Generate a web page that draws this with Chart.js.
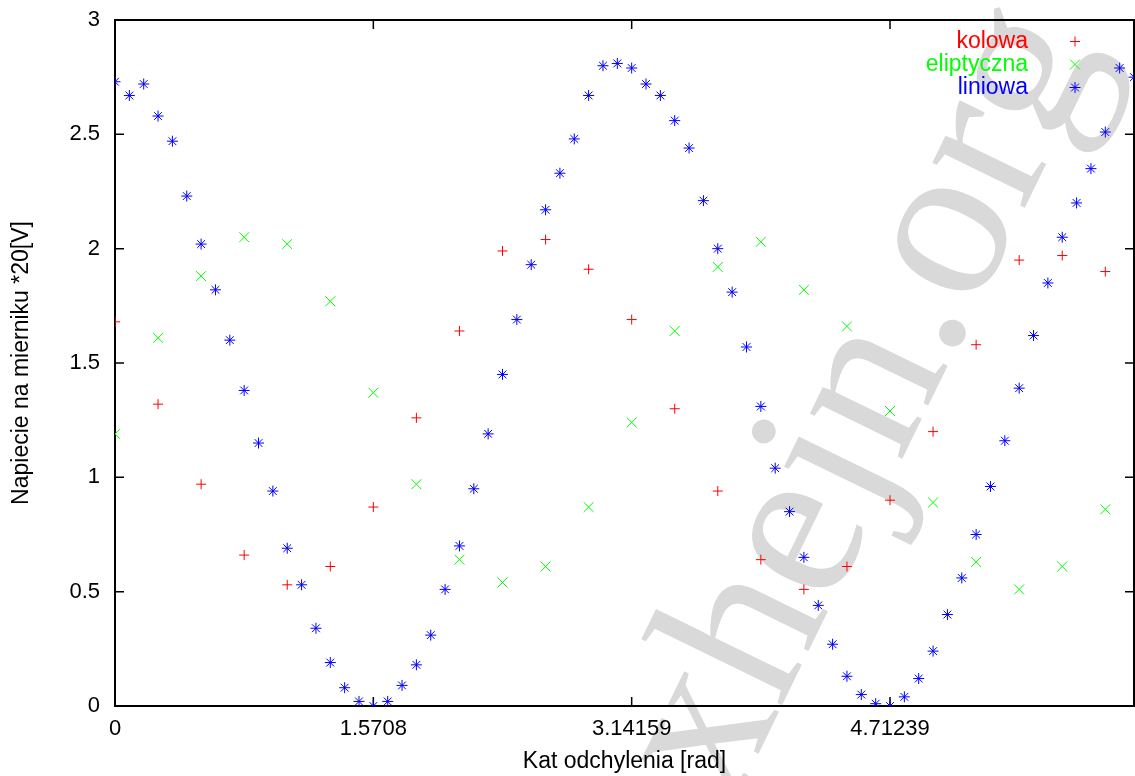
<!DOCTYPE html>
<html>
<head>
<meta charset="utf-8">
<script src="https://cdn.jsdelivr.net/npm/chart.js@4.4.1/dist/chart.umd.min.js"></script>
<style>
  html, body { margin: 0; padding: 0; background: #fff; }
  #c { display: block; }
</style>
</head>
<body>
<canvas id="c" width="1135" height="776"></canvas>
<script>
// Polaryzacja: napiecie na mierniku vs kat odchylenia (3 serie punktow)

// --- data ---
const anglesFineDeg = [0, 5, 10, 15, 20, 25, 30, 35, 40, 45, 50, 55, 60, 65, 70, 75, 80, 85,
  90, 95, 100, 105, 110, 115, 120, 125, 130, 135, 140, 145, 150, 155, 160, 165, 170, 175,
  180, 185, 190, 195, 200, 205, 210, 215, 220, 225, 230, 235, 240, 245, 250, 255, 260, 265,
  270, 275, 280, 285, 290, 295, 300, 305, 310, 315, 320, 325, 330, 335, 340, 345, 350, 355];
const anglesCoarseDeg = [0, 15, 30, 45, 60, 75, 90, 105, 120, 135, 150, 165,
  180, 195, 210, 225, 240, 255, 270, 285, 300, 315, 330, 345];

const kolowa = [1.68, 1.32, 0.97, 0.66, 0.53, 0.61, 0.87, 1.26, 1.64, 1.99, 2.04, 1.91,
  1.69, 1.30, 0.94, 0.64, 0.51, 0.61, 0.90, 1.20, 1.58, 1.95, 1.97, 1.90];
const eliptyczna = [1.19, 1.61, 1.88, 2.05, 2.02, 1.77, 1.37, 0.97, 0.64, 0.54, 0.61, 0.87,
  1.24, 1.64, 1.92, 2.03, 1.82, 1.66, 1.29, 0.89, 0.63, 0.51, 0.61, 0.86];
const liniowa = [2.73, 2.67, 2.72, 2.58, 2.47, 2.23, 2.02, 1.82, 1.60, 1.38, 1.15, 0.94,
  0.69, 0.53, 0.34, 0.19, 0.08, 0.02, 0.00, 0.02, 0.09, 0.18, 0.31, 0.51,
  0.70, 0.95, 1.19, 1.45, 1.69, 1.93, 2.17, 2.33, 2.48, 2.67, 2.80, 2.81,
  2.79, 2.72, 2.67, 2.56, 2.44, 2.21, 2.00, 1.81, 1.57, 1.31, 1.04, 0.85,
  0.65, 0.44, 0.27, 0.13, 0.05, 0.01, 0.00, 0.04, 0.12, 0.24, 0.40, 0.56,
  0.75, 0.96, 1.16, 1.39, 1.62, 1.85, 2.05, 2.20, 2.35, 2.51, 2.79, 2.75];

const xTickValues = [0, 1.5708, 3.14159, 4.71239];
const xTickLabels = ["0", "1.5708", "3.14159", "4.71239"];
const yTickValues = [0, 0.5, 1, 1.5, 2, 2.5, 3];
const yTickLabels = ["0", "0.5", "1", "1.5", "2", "2.5", "3"];

const FONT = '"Liberation Sans", Arial, Helvetica, sans-serif';
const rad = (d) => d * Math.PI / 180;
const pts = (angles, vals) => vals.map((v, i) => ({ x: rad(angles[i]), y: v }));
const noPad = (s) => { s.paddingTop = s.paddingBottom = s.paddingLeft = s.paddingRight = 0; };

// --- plugins ---
const watermark = {
  id: "watermark",
  beforeDraw(chart) {
    const ctx = chart.ctx;
    ctx.save();
    ctx.fillStyle = "#fff";
    ctx.fillRect(0, 0, chart.width, chart.height);
    ctx.translate(731, 810);
    ctx.rotate(rad(-64));
    ctx.font = '224px "Liberation Serif", "Times New Roman", serif';
    ctx.fillStyle = "#d9d9d9";
    ctx.textBaseline = "alphabetic";
    ctx.fillText("xhejn.org", 0, 0);
    ctx.restore();
  },
};

// gnuplot-style frame with inward, mirrored ticks
const frame = {
  id: "frame",
  beforeDatasetsDraw(chart) {
    const { ctx, chartArea: a, scales } = chart;
    ctx.save();
    ctx.strokeStyle = "#000";
    ctx.lineWidth = 1.5;
    const len = 9;
    ctx.beginPath();
    xTickValues.forEach((v) => {
      const px = scales.x.getPixelForValue(v);
      if (Math.abs(px - a.left) < 2) return;
      ctx.moveTo(px, a.bottom); ctx.lineTo(px, a.bottom - len);
      ctx.moveTo(px, a.top); ctx.lineTo(px, a.top + len);
    });
    yTickValues.forEach((v) => {
      const py = scales.y.getPixelForValue(v);
      if (Math.abs(py - a.bottom) < 2 || Math.abs(py - a.top) < 2) return;
      ctx.moveTo(a.left, py); ctx.lineTo(a.left + len, py);
      ctx.moveTo(a.right, py); ctx.lineTo(a.right - len, py);
    });
    ctx.stroke();
    ctx.lineWidth = 2;
    ctx.strokeRect(a.left, a.top, a.right - a.left, a.bottom - a.top);
    ctx.restore();
  },
};

// legend: coloured text right-aligned, marker to its right
const keyBox = {
  id: "keyBox",
  afterDraw(chart) {
    const ctx = chart.ctx;
    ctx.save();
    ctx.font = "23px " + FONT;
    ctx.textAlign = "right";
    ctx.textBaseline = "middle";
    chart.data.datasets.forEach((ds, i) => {
      const y = 41.5 + 23 * i;
      ctx.fillStyle = ds.borderColor;
      ctx.fillText(ds.label, 1028, y);
      ctx.strokeStyle = ds.borderColor;
      ctx.lineWidth = 1;
      Chart.helpers.drawPoint(ctx, {
        pointStyle: ds.pointStyle, radius: ds.pointRadius, rotation: 0, borderWidth: 1,
      }, 1075, y);
    });
    ctx.restore();
  },
};

// --- chart ---
new Chart(document.getElementById("c"), {
  type: "scatter",
  data: {
    datasets: [
      { label: "kolowa", data: pts(anglesCoarseDeg, kolowa), pointStyle: "cross",
        pointRadius: 5, borderColor: "#ff0000", backgroundColor: "#ff0000", borderWidth: 1 },
      { label: "eliptyczna", data: pts(anglesCoarseDeg, eliptyczna), pointStyle: "crossRot",
        pointRadius: 7, borderColor: "#00ff00", backgroundColor: "#00ff00", borderWidth: 1 },
      { label: "liniowa", data: pts(anglesFineDeg, liniowa), pointStyle: "star",
        pointRadius: 5.5, borderColor: "#0000ff", backgroundColor: "#0000ff", borderWidth: 1 },
    ],
  },
  options: {
    responsive: false,
    animation: false,
    layout: { autoPadding: false, padding: { top: 20, right: 1, left: 0, bottom: 0 } },
    plugins: { legend: { display: false }, tooltip: { enabled: false } },
    scales: {
      x: {
        type: "linear",
        min: 0,
        max: rad(anglesFineDeg[anglesFineDeg.length - 1]),
        afterBuildTicks: (s) => { s.ticks = xTickValues.map((v) => ({ value: v })); },
        afterFit: (s) => { s.height = 70; noPad(s); },
        grid: { display: false, drawTicks: false },
        border: { display: false },
        ticks: {
          color: "#000", padding: 10, maxRotation: 0, autoSkip: false,
          font: { family: FONT, size: 22 },
          callback: (v, i) => xTickLabels[i],
        },
        title: {
          display: true, text: "Kat odchylenia [rad]", color: "#000",
          font: { family: FONT, size: 23 }, padding: { top: 0, bottom: 1 },
        },
      },
      y: {
        min: 0,
        max: 3,
        afterBuildTicks: (s) => { s.ticks = yTickValues.map((v) => ({ value: v })); },
        afterFit: (s) => { s.width = 115; noPad(s); },
        grid: { display: false, drawTicks: false },
        border: { display: false },
        ticks: {
          color: "#000", padding: 15,
          font: { family: FONT, size: 22 },
          callback: (v, i) => yTickLabels[i],
        },
        title: {
          display: true, text: "Napiecie na mierniku *20[V]", color: "#000",
          font: { family: FONT, size: 23 }, padding: { top: 8, bottom: 0 },
        },
      },
    },
  },
  plugins: [watermark, frame, keyBox],
});
</script>
</body>
</html>
